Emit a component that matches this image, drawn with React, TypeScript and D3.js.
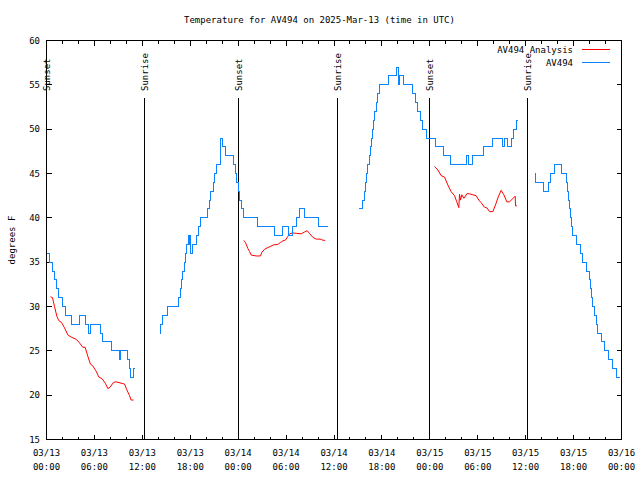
import * as d3 from "d3"

// hours are counted from 2025-03-13 00:00 UTC
const START = Date.UTC(2025, 2, 13)

const tickHours = [0, 6, 12, 18, 24, 30, 36, 42, 48, 54, 60, 66, 72]
const tickDays = ["03/13", "03/13", "03/13", "03/13", "03/14", "03/14", "03/14", "03/14", "03/15", "03/15", "03/15", "03/15", "03/16"]
const tickClock = ["00:00", "06:00", "12:00", "18:00", "00:00", "06:00", "12:00", "18:00", "00:00", "06:00", "12:00", "18:00", "00:00"]
const yTicks = [15, 20, 25, 30, 35, 40, 45, 50, 55, 60]

const sunHours = [0, 12.33, 24.02, 36.38, 48.02, 60.29]
const sunLabels = ["Sunset", "Sunrise", "Sunset", "Sunrise", "Sunset", "Sunrise"]

// AV494 observations (blue), one pair of arrays per unbroken run
const obsHours1 = [0, 0.4, 0.75, 1.0, 1.25, 1.55, 2.0, 2.4, 3.17, 4.13, 4.84, 5.3, 5.5, 6.76, 6.95, 8.2, 9.1, 9.3, 10.2, 10.35, 10.5, 10.95, 11.0]
const obsTemps1 = [36, 35, 34, 33, 32, 31, 30, 29, 28, 29, 28, 27, 28, 27, 26, 25, 24, 25, 24, 23, 22, 23, 23]

const obsHours2 = [14.19, 14.3, 14.55, 15.1, 16.55, 16.72, 16.9, 17.05, 17.25, 17.45, 17.57, 17.75, 17.85, 17.95, 18.08, 18.3, 18.75, 19.0, 19.28, 20.12, 20.37, 20.58, 20.87, 21.08, 21.33, 21.79, 22.08, 22.37, 23.46, 23.71, 23.83, 24.0, 24.17, 24.42, 24.67, 26.38, 28.55, 29.6, 30.35, 30.8, 31.35, 31.65, 32.3, 34.1, 35.23]
const obsTemps2 = [27, 28, 29, 30, 31, 32, 33, 34, 35, 36, 37, 38, 37, 38, 36, 37, 38, 39, 40, 41, 42, 43, 44, 45, 46, 49, 48, 47, 46, 45, 44, 43, 42, 41, 40, 39, 38, 39, 38, 39, 40, 41, 40, 39, 39]

const obsHours3 = [39.07, 39.61, 39.78, 39.9, 40.07, 40.24, 40.4, 40.53, 40.7, 40.82, 40.95, 41.11, 41.28, 41.45, 41.7, 42.78, 43.78, 44.03, 44.24, 44.74, 45.83, 46.16, 46.45, 46.83, 47.08, 47.54, 48.67, 49.67, 50.55, 52.6, 52.8, 53.3, 54.72, 55.85, 57.06, 57.39, 57.77, 58.27, 58.52, 58.81, 58.94]
const obsTemps3 = [41, 42, 43, 44, 45, 46, 47, 48, 49, 50, 51, 52, 53, 54, 55, 56, 57, 55, 56, 55, 54, 53, 52, 51, 50, 49, 48, 47, 46, 47, 46, 47, 48, 49, 48, 49, 48, 49, 50, 51, 51]

const obsHours4 = [61.1, 61.2, 62.27, 62.85, 63.15, 63.65, 64.45, 65.1, 65.3, 65.41, 65.49, 65.66, 65.78, 65.9, 66.4, 66.9, 67.1, 67.6, 67.95, 68.1, 68.25, 68.4, 68.66, 68.83, 69.05, 69.55, 69.85, 70.35, 70.85, 71.35, 71.75]
const obsTemps4 = [45, 44, 43, 44, 45, 46, 45, 44, 43, 42, 41, 40, 39, 38, 37, 36, 35, 34, 33, 32, 31, 30, 29, 28, 27, 26, 25, 24, 23, 22, 22]

// AV494 analysis (red)
const anaHours1 = [0.5, 0.75, 1.0, 1.3, 1.54, 1.88, 2.25, 2.67, 3.09, 3.72, 4.13, 4.55, 4.84, 5.17, 5.5, 5.8, 6.22, 6.55, 6.97, 7.39, 7.68, 7.97, 8.39, 8.72, 9.35, 9.77, 10.06, 10.4, 10.6, 10.9]
const anaTemps1 = [31.1, 31.0, 30.0, 28.9, 28.4, 28.2, 27.6, 26.8, 26.55, 26.3, 25.9, 25.4, 25.4, 24.4, 23.5, 23.3, 22.7, 22.05, 21.85, 21.3, 20.75, 20.9, 21.45, 21.5, 21.35, 21.25, 20.6, 19.95, 19.45, 19.45]

const anaHours2 = [24.71, 24.92, 25.21, 25.42, 25.63, 26.26, 26.8, 26.96, 27.3, 27.71, 28.0, 28.42, 28.97, 29.26, 29.6, 29.93, 30.22, 30.43, 30.85, 31.26, 31.89, 32.31, 32.64, 32.93, 33.35, 33.77, 34.27, 34.52, 34.89]
const anaTemps2 = [37.45, 37.2, 36.55, 36.2, 35.8, 35.7, 35.7, 36.1, 36.45, 36.65, 36.75, 36.95, 37.0, 37.2, 37.4, 37.5, 37.9, 38.2, 38.3, 38.25, 38.2, 38.4, 38.55, 38.25, 37.8, 37.6, 37.6, 37.5, 37.45]

const anaHours3 = [48.59, 49.0, 49.42, 49.84, 50.26, 50.67, 51.09, 51.38, 51.63, 51.72, 51.84, 52.01, 52.26, 52.68, 52.97, 53.39, 53.8, 54.14, 54.43, 54.85, 55.18, 55.47, 55.89, 56.22, 56.56, 56.93, 57.27, 57.64, 57.98, 58.69, 58.73, 58.9]
const anaTemps3 = [45.8, 45.4, 44.75, 44.6, 43.7, 42.95, 42.5, 41.8, 41.15, 42.65, 42.0, 42.6, 42.2, 42.75, 42.7, 42.6, 42.5, 42.0, 41.7, 41.2, 41.1, 40.7, 40.7, 41.45, 42.35, 43.1, 42.6, 41.8, 41.8, 42.45, 41.35, 41.35]

const obsRuns = [[obsHours1, obsTemps1], [obsHours2, obsTemps2], [obsHours3, obsTemps3], [obsHours4, obsTemps4]]
const anaRuns = [[anaHours1, anaTemps1], [anaHours2, anaTemps2], [anaHours3, anaTemps3]]

const RED = "#ff0000"
const BLUE = "#0a84ff"
const FONT = "'DejaVu Sans Mono', monospace"

const at = (h: number) => new Date(START + h * 3600e3)

export default function App() {
  const left = 46.5
  const right = 621.5
  const top = 40.5
  const bottom = 439.5

  const x = d3.scaleUtc().domain([at(0), at(72)]).range([left, right])
  const y = d3.scaleLinear().domain([15, 60]).range([bottom, top])

  const stepLine = d3
    .line<[number, number]>()
    .x((d) => Math.round(x(at(d[0])) - 0.5) + 0.5)
    .y((d) => Math.round(y(d[1]) - 0.5) + 0.5)
    .curve(d3.curveStepAfter)

  const smoothLine = d3
    .line<[number, number]>()
    .x((d) => x(at(d[0])))
    .y((d) => y(d[1]))

  const pairs = (hs: number[], ts: number[]) => hs.map((h, i) => [h, ts[i]] as [number, number])

  const minorHours = d3.range(0, 73, 2).filter((h) => h % 6 !== 0)
  const lineTop = bottom - 0.855 * (bottom - top)

  return (
    <svg
      width={640}
      height={480}
      style={{ position: "absolute", left: 0, top: 0, background: "#fff", display: "block" }}
      fontFamily={FONT}
      fontSize={9}
    >
      <rect x={0} y={0} width={640} height={480} fill="#fff" />

      {/* title */}
      <text x={319.5} y={20} textAnchor="middle" dominantBaseline="central" fill="#000">
        Temperature for AV494 on 2025-Mar-13 (time in UTC)
      </text>

      {/* y axis label */}
      <text
        transform={`translate(12, 240) rotate(-90)`}
        textAnchor="middle"
        dominantBaseline="central"
        fill="#000"
      >
        degrees F
      </text>

      {/* ticks */}
      <g stroke="#000" strokeWidth={1} shapeRendering="crispEdges">
        {yTicks.map((t) => (
          <g key={"y" + t}>
            <line x1={left} x2={left + 5} y1={y(t)} y2={y(t)} />
            <line x1={right} x2={right - 5} y1={y(t)} y2={y(t)} />
          </g>
        ))}
        {tickHours.map((h) => (
          <g key={"x" + h}>
            <line x1={x(at(h))} x2={x(at(h))} y1={bottom} y2={bottom - 5} />
            <line x1={x(at(h))} x2={x(at(h))} y1={top} y2={top + 5} />
          </g>
        ))}
        {minorHours.map((h) => (
          <g key={"m" + h}>
            <line x1={x(at(h))} x2={x(at(h))} y1={bottom} y2={bottom - 3} />
            <line x1={x(at(h))} x2={x(at(h))} y1={top} y2={top + 3} />
          </g>
        ))}
      </g>

      {/* tick labels */}
      <g fill="#000">
        {yTicks.map((t) => (
          <text key={"yl" + t} x={40} y={y(t)} textAnchor="end" dominantBaseline="central">
            {t}
          </text>
        ))}
        {tickHours.map((h, i) => (
          <g key={"xl" + h}>
            <text x={x(at(h))} y={453} textAnchor="middle" dominantBaseline="central">
              {tickDays[i]}
            </text>
            <text x={x(at(h))} y={467} textAnchor="middle" dominantBaseline="central">
              {tickClock[i]}
            </text>
          </g>
        ))}
      </g>

      {/* sunrise / sunset markers */}
      {sunHours.map((h, i) => {
        const sx = Math.round(x(at(h)) - 0.5) + 0.5
        return (
          <g key={"sun" + i}>
            <line x1={sx} x2={sx} y1={bottom} y2={lineTop} stroke="#000" strokeWidth={1} shapeRendering="crispEdges" />
            <text
              transform={`translate(${sx}, 91) rotate(-90)`}
              textAnchor="start"
              dominantBaseline="central"
              fill="#000"
            >
              {sunLabels[i]}
            </text>
          </g>
        )
      })}

      {/* analysis series */}
      <g fill="none" stroke={RED} strokeWidth={1}>
        {anaRuns.map(([hs, ts], i) => (
          <path key={"a" + i} d={smoothLine(pairs(hs, ts)) || ""} />
        ))}
      </g>

      {/* observed series */}
      <g fill="none" stroke={BLUE} strokeWidth={1.4} shapeRendering="crispEdges">
        {obsRuns.map(([hs, ts], i) => (
          <path key={"o" + i} d={stepLine(pairs(hs, ts)) || ""} />
        ))}
      </g>

      {/* border */}
      <rect
        x={left}
        y={top}
        width={right - left}
        height={bottom - top}
        fill="none"
        stroke="#000"
        strokeWidth={1}
        shapeRendering="crispEdges"
      />

      {/* legend */}
      <g fill="#000">
        <text x={573} y={49.5} textAnchor="end" dominantBaseline="central">
          AV494 Analysis
        </text>
        <line x1={582} x2={610} y1={49.5} y2={49.5} stroke={RED} strokeWidth={1} shapeRendering="crispEdges" />
        <text x={573} y={62.5} textAnchor="end" dominantBaseline="central">
          AV494
        </text>
        <line x1={582} x2={610} y1={62.5} y2={62.5} stroke={BLUE} strokeWidth={1} shapeRendering="crispEdges" />
      </g>
    </svg>
  )
}
